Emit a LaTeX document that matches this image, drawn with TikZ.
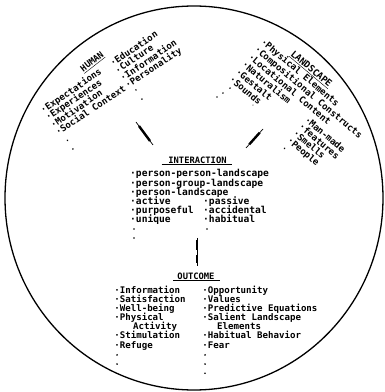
\documentclass[tikz,border=0pt]{standalone}
\usepackage{fontspec}
\setmainfont{DejaVu Sans Mono}
\begin{document}
\begin{tikzpicture}[x=1pt,y=1pt]
\tikzset{
 itm/.style={inner sep=0pt, anchor=base west, font=\fontsize{9.1}{9.1}\selectfont\bfseries},
 itmL/.style={inner sep=0pt, anchor=base west, font=\fontsize{9.6}{9.6}\selectfont\bfseries},
 ttl/.style={inner sep=0pt, anchor=base, font=\fontsize{8.8}{8.8}\selectfont\bfseries},
 dotm/.style={circle, fill=black, inner sep=0pt, minimum size=1.8pt},
 thinpart/.style={line width=0.7pt},
 thickpart/.style={line width=2.4pt, shorten <=5pt, shorten >=5pt},
 uline/.style={line width=0.6pt},
}
\useasboundingbox (0,0) rectangle (384,392);
\fill[white] (0,0) rectangle (384,392);
\draw[line width=1.3pt] (194,194) ellipse [x radius=189, y radius=192];

% HUMAN
\begin{scope}[shift={(44,282)}, rotate=34, transform shape]
\node[ttl, rotate=4] (human) at (67,10.2) {\underline{HUMAN}};
\foreach \t [count=\i from 0] in {Expectations, Experiences, Motivation, Social Context}
  \node[itm] (hl\i) at (-2.8,-2.5-9*\i) {·\t};
\foreach \t [count=\i from 0] in {Education, Culture, Information, Personality}
  \node[itm] (hr\i) at (81.2,-2.5-9*\i) {·\t};
\node[dotm] (hld1) at (2.5,-38.3) {};
\node[dotm] (hld2) at (2.2,-48.5) {};
\node[dotm] (hrd1) at (87.5,-34.8) {};
\node[dotm] (hrd2) at (87.3,-45.7) {};
\end{scope}

% LANDSCAPE
\begin{scope}[shift={(264,349)}, rotate=-40, transform shape]
\node[ttl, font=\fontsize{9.3}{9.3}\selectfont\bfseries] (land) at (53,7.5) {\underline{LANDSCAPE}};
\foreach \t [count=\i from 0] in {Physical Elements, Compositional Constructs, Locational Content, Naturalism, Gestalt, Sounds}
  \node[itm] (ll\i) at (-2.8,-2.5-9.8*\i) {·\t};
\foreach \t/\p [count=\i from 0] in {Man-made/31.5, features/40.5, Smells/49.5, People/58.5}
  \node[itm] (lr\i) at (80.7,-2.5-\p) {·\t};
\node[dotm] (lrd) at (83.5,-67.5) {};
\node[dotm] (lld1) at (3,-56.4) {};
\node[dotm] (lld2) at (0.8,-64.7) {};
\node[dotm] (lld3) at (-1.3,-71.6) {};
\node[dotm, minimum size=1.2pt] (lls) at (31.5,-54.6) {};
\end{scope}

% arrows toward interaction
\coordinate (ha1) at (136,270); \coordinate (ha2) at (153,247);
\coordinate (la1) at (263,263); \coordinate (la2) at (246,244);
\draw[thinpart] (ha1) -- (ha2); \draw[thickpart] (ha1) -- (ha2);
\draw[thinpart] (la1) -- (la2); \draw[thickpart] (la1) -- (la2);

% INTERACTION
\node[ttl] (inter) at (197.5,228.8) {INTERACTION};
\draw[uline] ([xshift=-6.5pt,yshift=-1.6pt]inter.base west) -- ([xshift=5pt,yshift=-1.6pt]inter.base east);
\foreach \t [count=\i from 0] in {person-person-landscape, person-group-landscape, person-landscape, active, purposeful, unique}
  \node[itmL] (il\i) at (130,215-9.1*\i) {·\t};
\foreach \t [count=\i from 3] in {passive, accidental, habitual}
  \node[itmL] (ir\i) at (203,215-9.1*\i) {·\t};
\node[dotm] (ild1) at (134,163) {};
\node[dotm] (ild2) at (134,154) {};
\node[dotm] (ird1) at (207,163) {};

% vertical arrow
\coordinate (ia1) at (197,154); \coordinate (ia2) at (197,126);
\draw[thinpart] (ia1) -- (ia2);
\draw[line width=2pt, shorten <=2pt, shorten >=16pt] (ia1) -- (ia2);
\draw[line width=2pt, shorten <=17pt, shorten >=3pt] (ia1) -- (ia2);

% OUTCOME
\node[ttl] (out) at (196,113) {OUTCOME};
\draw[uline] ([xshift=-4pt,yshift=-1.6pt]out.base west) -- ([xshift=5pt,yshift=-1.6pt]out.base east);
\foreach \t/\r in {Information/0, Satisfaction/1, Well-being/2, Physical/3, Stimulation/5, Refuge/6}
  \node[itm] (ol\r) at (114.2,99-9.2*\r) {·\t};
\node[itm] (ol4) at (133,99-9.2*4) {Activity};
\node[dotm] (old1) at (117,99-9.2*7+2.5) {};
\node[dotm] (old2) at (117,99-9.2*8+2.5) {};
\foreach \t/\r in {Opportunity/0, Values/1, Predictive Equations/2, Salient Landscape/3, Habitual Behavior/5, Fear/6}
  \node[itm] (or\r) at (202.2,99-9.2*\r) {·\t};
\node[itm] (or4) at (217,99-9.2*4) {Elements};
\node[dotm] (ord1) at (205,99-9.2*7+2.5) {};
\node[dotm] (ord2) at (205,99-9.2*8+2.5) {};
\node[dotm] (ord3) at (205,99-9.2*9+2.5) {};
\end{tikzpicture}
\end{document}
